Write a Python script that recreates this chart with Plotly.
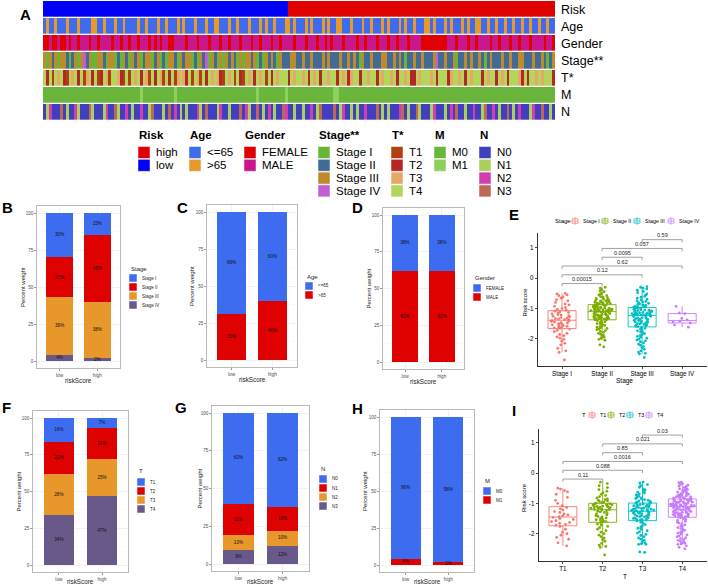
import plotly.graph_objects as go

W, H = 708, 586
FONT = "Liberation Sans, Arial, sans-serif"


def fx(p):
    return p / W


def fy(p):
    return 1 - p / H


# ---------------- data : heatmap (one character per sample, ordered by risk) ----------------
risk_n_low = 86
risk_n_high = 94
age_row = ("ABAABAAABA" "AABAAAABBA" "ABAAABAABA" "AAABAABAAA" "BAABAAABAB" "AAABAAABAA"
           "BBAAABAABA" "AABAAABABA" "ABAAABBABA" "AABABAAABA" "BAABBAAABA" "AABAABAAAB"
           "ABAAABABAA" "BAAABBABAA" "ABABAAABAB" "AABBAABAAB" "AABAABAABA" "ABAABAABAA")
gender_row = ("FFMFFMFFMF" "MMFMMMFMMF" "MMMMFMMFMM" "FMMFMMMFMF" "MFMMFFMMMM" "FMMMFMMMFM"
              "MMFMMFMMMF" "MMMFMMFMMM" "FMMFMMMMFM" "MMFMMMFMMF" "MFMMMFMMMM" "FMMFMMMFMM"
              "MFMMFMMMFM" "MMMFFFFFFF" "FFMMMFMMMF" "MMFMMMMFMM" "FMMMFMMFMM" "MFMMMMFMMF")
stage_row = ("3132313321" "2313423113" "3213312132" "1323123312" "3121332132" "3312132413"
             "2131323213" "1332312132" "3213222332" "2322322232" "3222322323" "2132232223"
             "3223232122" "3223222342" "2322312232" "3223212322" "2322322332" "2232232123")
t_row = ("4241434214" "3424134241" "2431443214" "1434243142" "4314241343" "2414314243"
         "4321434142" "1434243414" "2434442434" "4342434244" "3442434234" "4244344243"
         "4434244342" "2434443424" "4423443424" "3444243442" "4342444324" "2443434442")
m_row = ("0000000000" "0000000000" "0000000000" "0000100000" "0000001000" "0000000000"
         "0000000000" "0000010000" "0000010000" "0000000000" "0011000000" "0000000000"
         "0000000000" "0000000000" "0000000000" "0000000000" "0000000000" "0000000000")
n_row = ("0120003010" "0210003100" "0120031002" "0100200130" "0010302010" "1000210300"
         "0120010003" "0210030102" "0100320010" "0100201300" "0030120010" "1002000301"
         "0100023010" "0310001200" "0102030010" "0200130020" "1003010200" "0120030010")
risk_row = "L" * risk_n_low + "H" * risk_n_high

row_labels = ["Risk", "Age", "Gender", "Stage**", "T*", "M", "N"]
legend_titles = ["Risk", "Age", "Gender", "Stage**", "T*", "M", "N"]
legend_items = [["high", "low"], ["<=65", ">65"], ["FEMALE", "MALE"],
                ["Stage I", "Stage II", "Stage III", "Stage IV"], ["T1", "T2", "T3", "T4"],
                ["M0", "M1"], ["N0", "N1", "N2", "N3"]]
legend_keys = [["H", "L"], ["A", "B"], ["F", "M"], ["1", "2", "3", "4"], ["1", "2", "3", "4"],
               ["0", "1"], ["0", "1", "2", "3"]]
legend_colors = [["#E00000", "#0000F5"], ["#3F6BEF", "#E8992B"], ["#E00000", "#C8168C"],
                 ["#6AB535", "#416B94", "#BF8A2B", "#C25ED3"],
                 ["#AF4110", "#B52626", "#E7A766", "#B1D65A"],
                 ["#6AB53C", "#8CD05E"], ["#3F3FBF", "#ABCF5B", "#D43DB1", "#BF6754"]]

# ---------------- data : stacked percentage bars ----------------
stage_levels = ["Stage I", "Stage II", "Stage III", "Stage IV"]
stage_low = [30, 27, 39, 4]
stage_high = [15, 45, 38, 2]
age_levels = ["<=65", ">65"]
age_low = [69, 31]
age_high = [60, 40]
gender_levels = ["FEMALE", "MALE"]
gender_low = [38, 62]
gender_high = [38, 62]
t_levels = ["T1", "T2", "T3", "T4"]
t_low = [16, 22, 28, 34]
t_high = [7, 21, 25, 47]
n_levels = ["N0", "N1", "N2", "N3"]
n_low = [60, 21, 10, 9]
n_high = [62, 16, 10, 12]
m_levels = ["M0", "M1"]
m_low = [96, 4]
m_high = [98, 2]
risk_groups = ["low", "high"]

# ---------------- data : risk score by Stage ----------------
stage_box_names = ["Stage I", "Stage II", "Stage III", "Stage IV"]
stage_I = [-0.50, -0.52, -0.55, -0.58, -0.62, -0.66, -0.71, -0.75, -0.80, -0.85, -0.88, -0.93, -0.97, -1.00, -1.03, -1.06,
           -1.09, -1.11, -1.13, -1.15, -1.18, -1.20, -1.22, -1.24, -1.26, -1.28, -1.30, -1.32, -1.34, -1.35, -1.37, -1.38,
           -1.40, -1.42, -1.43, -1.45, -1.47, -1.48, -1.50, -1.52, -1.54, -1.55, -1.57, -1.59, -1.61, -1.62, -1.64, -1.65,
           -1.68, -1.72, -1.77, -1.82, -1.86, -1.90, -1.94, -1.98, -2.02, -2.08, -2.15, -2.20, -2.32, -2.40, -2.45, -2.70]
stage_II = [-0.30, -0.33, -0.38, -0.42, -0.45, -0.50, -0.53, -0.56, -0.58, -0.61, -0.63, -0.65, -0.67, -0.69, -0.70,
            -0.72, -0.73, -0.75, -0.76, -0.77, -0.78, -0.79, -0.80, -0.81, -0.82, -0.83, -0.84, -0.85, -0.86, -0.87,
            -0.88, -0.89, -0.90, -0.91, -0.92, -0.93, -0.94, -0.95, -0.96, -0.96, -0.97, -0.98, -0.99, -1.00, -1.01,
            -1.02, -1.02, -1.03, -1.04, -1.05, -1.05, -1.06, -1.06, -1.07, -1.07, -1.08, -1.08, -1.09, -1.09, -1.10,
            -1.11, -1.12, -1.13, -1.14, -1.15, -1.16, -1.17, -1.18, -1.19, -1.20, -1.21, -1.22, -1.23, -1.24, -1.25,
            -1.26, -1.27, -1.28, -1.29, -1.30, -1.31, -1.32, -1.33, -1.33, -1.34, -1.34, -1.35, -1.35, -1.36, -1.37,
            -1.38, -1.40, -1.42, -1.44, -1.46, -1.48, -1.50, -1.52, -1.54, -1.56, -1.58, -1.60, -1.62, -1.64, -1.66,
            -1.68, -1.70, -1.73, -1.76, -1.79, -1.82, -1.85, -1.88, -1.91, -1.95, -1.98, -2.02, -2.05, -2.20, -2.27]
stage_III = [-0.28, -0.30, -0.33, -0.36, -0.40, -0.44, -0.48, -0.52, -0.56, -0.60, -0.63, -0.66, -0.69, -0.72,
             -0.75, -0.77, -0.79, -0.81, -0.83, -0.85, -0.87, -0.89, -0.90, -0.92, -0.93, -0.94, -0.95, -0.96,
             -0.98, -0.99, -1.00, -1.01, -1.03, -1.04, -1.05, -1.06, -1.07, -1.08, -1.09, -1.10, -1.11, -1.12,
             -1.13, -1.14, -1.15, -1.16, -1.17, -1.18, -1.18, -1.19, -1.20, -1.20, -1.21, -1.21, -1.22, -1.22,
             -1.24, -1.25, -1.26, -1.27, -1.28, -1.30, -1.31, -1.32, -1.34, -1.35, -1.36, -1.38, -1.39, -1.40,
             -1.42, -1.43, -1.44, -1.46, -1.47, -1.48, -1.50, -1.51, -1.53, -1.54, -1.56, -1.57, -1.59, -1.60,
             -1.62, -1.65, -1.68, -1.71, -1.74, -1.77, -1.80, -1.83, -1.86, -1.89, -1.92, -1.95, -1.98, -2.01,
             -2.04, -2.07, -2.10, -2.14, -2.18, -2.22, -2.26, -2.30, -2.35, -2.40, -2.44, -2.48, -2.50, -2.62]
stage_IV = [-0.93, -1.15, -1.17, -1.33, -1.38, -1.42, -1.45, -1.48, -1.55, -1.62]
stage_pvals = ["0.00015", "0.12", "0.62", "0.0095", "0.057", "0.59"]

# ---------------- data : risk score by T ----------------
t_box_names = ["T1", "T2", "T3", "T4"]
t_1 = [-0.50, -0.53, -0.58, -0.62, -0.70, -0.80, -0.90, -1.00, -1.08,
       -1.14, -1.18, -1.22, -1.27, -1.30, -1.35, -1.38, -1.41, -1.44,
       -1.46, -1.50, -1.53, -1.57, -1.60, -1.63, -1.66, -1.69, -1.72,
       -1.76, -1.85, -1.95, -2.00, -2.05, -2.12, -2.18, -2.30, -2.40]
t_2 = [-0.30, -0.35, -0.42, -0.48, -0.55, -0.60, -0.65, -0.70, -0.74, -0.78, -0.82, -0.85, -0.88, -0.90, -0.92,
       -0.94, -0.96, -0.98, -0.99, -1.01, -1.02, -1.04, -1.05, -1.06, -1.08, -1.09, -1.10, -1.11, -1.12, -1.13,
       -1.14, -1.15, -1.16, -1.17, -1.18, -1.19, -1.20, -1.20, -1.22, -1.24, -1.26, -1.28, -1.30, -1.33, -1.35,
       -1.38, -1.40, -1.43, -1.45, -1.48, -1.50, -1.52, -1.54, -1.56, -1.58, -1.60, -1.61, -1.64, -1.68, -1.72,
       -1.76, -1.80, -1.85, -1.90, -1.95, -2.00, -2.05, -2.10, -2.15, -2.20, -2.25, -2.32, -2.38, -2.42, -2.45,
       -2.70]
t_3 = [-0.30, -0.33, -0.38, -0.42, -0.47, -0.52, -0.56, -0.60, -0.63, -0.66, -0.69, -0.72, -0.75, -0.77, -0.80,
       -0.82, -0.84, -0.86, -0.88, -0.90, -0.92, -0.94, -0.96, -0.98, -1.00, -1.01, -1.02, -1.04, -1.05, -1.06,
       -1.08, -1.09, -1.10, -1.12, -1.13, -1.14, -1.16, -1.17, -1.18, -1.19, -1.20, -1.21, -1.22, -1.23, -1.23,
       -1.24, -1.25, -1.25, -1.27, -1.28, -1.29, -1.30, -1.32, -1.33, -1.34, -1.36, -1.37, -1.38, -1.40, -1.41,
       -1.42, -1.44, -1.45, -1.46, -1.48, -1.49, -1.50, -1.52, -1.53, -1.54, -1.55, -1.56, -1.58, -1.62, -1.66,
       -1.70, -1.74, -1.78, -1.82, -1.86, -1.90, -1.94, -1.98, -2.02, -2.06, -2.10, -2.14, -2.18, -2.22, -2.26,
       -2.30, -2.33, -2.35, -2.35, -2.60, -2.62]
t_4 = [-0.30, -0.32, -0.35, -0.38, -0.40, -0.43, -0.45, -0.48, -0.50, -0.52, -0.54, -0.56, -0.58, -0.60, -0.62,
       -0.63, -0.65, -0.66, -0.68, -0.69, -0.70, -0.72, -0.73, -0.74, -0.75, -0.76, -0.77, -0.78, -0.79, -0.80,
       -0.81, -0.82, -0.83, -0.84, -0.85, -0.86, -0.87, -0.88, -0.89, -0.90, -0.91, -0.92, -0.93, -0.94, -0.95,
       -0.96, -0.96, -0.97, -0.98, -0.99, -1.00, -1.00, -1.01, -1.02, -1.02, -1.03, -1.04, -1.04, -1.05, -1.05,
       -1.06, -1.06, -1.07, -1.07, -1.08, -1.08, -1.09, -1.09, -1.10, -1.10, -1.11, -1.12, -1.13, -1.14, -1.15,
       -1.16, -1.17, -1.18, -1.19, -1.20, -1.21, -1.22, -1.23, -1.24, -1.25, -1.26, -1.27, -1.28, -1.29, -1.30,
       -1.31, -1.32, -1.33, -1.34, -1.35, -1.36, -1.37, -1.38, -1.39, -1.40, -1.41, -1.42, -1.43, -1.44, -1.45,
       -1.47, -1.50, -1.53, -1.56, -1.59, -1.62, -1.65, -1.68, -1.71, -1.74, -1.77, -1.80, -1.83, -1.86, -1.89,
       -1.92, -1.95, -1.98, -2.01, -2.04, -2.07, -2.10, -2.13, -2.16, -2.19, -2.22, -2.25, -2.28, -2.30, -2.32,
       -2.34, -2.35, -2.40, -2.45, -2.50]
t_pvals = ["0.11", "0.088", "0.0016", "0.85", "0.021", "0.03"]
comparisons = [(0, 1), (0, 2), (0, 3), (1, 2), (1, 3), (2, 3)]

# ---------------- styles ----------------
BAR_COLORS = ["#3D6CF0", "#DF0000", "#E8982A", "#69598A"]
BOX_COLORS = ["#F8766D", "#7CAE00", "#00BFC4", "#C77CFF"]
BORDER = "#A8A8A8"
GRID = "#ECECEC"
MINOR = "#F6F6F6"

fig = go.Figure()
shapes = []
annotations = []
layout_axes = {}


def text(x, y, s, size, color="black", bold=False, xanchor="center", yanchor="middle", angle=0):
    annotations.append(dict(x=fx(x), y=fy(y), xref="paper", yref="paper", text=f"<b>{s}</b>" if bold else s,
                            showarrow=False, xanchor=xanchor, yanchor=yanchor, textangle=angle,
                            font=dict(size=size, color=color, family=FONT)))


def rect(x0, y0, x1, y1, fill, line_color=None, lw=0):
    shapes.append(dict(type="rect", xref="paper", yref="paper", x0=fx(x0), x1=fx(x1), y0=fy(y1), y1=fy(y0),
                       fillcolor=fill, line=dict(width=lw, color=line_color or fill), layer="above"))


# ---------------- A : annotation heatmap ----------------
rows = [risk_row, age_row, gender_row, stage_row, t_row, m_row, n_row]
codes = {}
colors_flat = []
for r, (keys, cols) in enumerate(zip(legend_keys, legend_colors)):
    for k, c in zip(keys, cols):
        codes[(r, k)] = len(colors_flat)
        colors_flat.append(c)
ncode = len(colors_flat)
cscale = []
for i, c in enumerate(colors_flat):
    cscale.append([i / ncode, c])
    cscale.append([(i + 1) / ncode, c])
ncol = min(len(s) for s in rows)
z = [[codes[(r, ch)] for ch in s[:ncol]] for r, s in enumerate(rows)]
fig.add_trace(go.Heatmap(z=z, x=list(range(ncol)), y=list(range(len(rows))), colorscale=cscale,
                         zmin=-0.5, zmax=ncode - 0.5, showscale=False, ygap=1.3, xgap=0,
                         hoverinfo="skip", xaxis="x", yaxis="y"))
HM_L, HM_R, HM_T, HM_B = 43, 555, 1, 121
layout_axes["xaxis"] = dict(domain=[fx(HM_L), fx(HM_R)], range=[-0.5, ncol - 0.5], visible=False, anchor="y")
layout_axes["yaxis"] = dict(domain=[fy(HM_B), fy(HM_T)], range=[len(rows) - 0.5, -0.5], visible=False, anchor="x")
row_h = (HM_B - HM_T) / len(rows)
for i, lab in enumerate(row_labels):
    text(559, HM_T + (i + 0.5) * row_h, lab, 12.5, xanchor="left")

# heatmap legend
leg_x = [138, 189, 244, 318, 391, 434, 479]
for gx, title, items, cols in zip(leg_x, legend_titles, legend_items, legend_colors):
    text(gx - 1, 135, title, 11.5, bold=True, xanchor="left")
    for j, (it, c) in enumerate(zip(items, cols)):
        cy = 152.5 + 12.8 * j
        rect(gx, cy - 6, gx + 12, cy + 6, c, "white", 0.5)
        text(gx + 16, cy, it, 11.5, xanchor="left")

# ---------------- stacked bar panels ----------------
bar_panels = [
    dict(ax=2, levels=stage_levels, low=stage_low, high=stage_high, title="Stage",
         left=37, right=120, y0=361, y100=213, ytx=23, leg=(129, 269, 278), letter=("B", 7, 207)),
    dict(ax=3, levels=age_levels, low=age_low, high=age_high, title="Age",
         left=207, right=297, y0=360, y100=212, ytx=192, leg=(305, 277, 286), letter=("C", 182, 207)),
    dict(ax=4, levels=gender_levels, low=gender_low, high=gender_high, title="Gender",
         left=383, right=464, y0=362, y100=215, ytx=368, leg=(473, 278, 288), letter=("D", 357, 207)),
    dict(ax=6, levels=t_levels, low=t_low, high=t_high, title="T",
         left=33, right=128, y0=565, y100=418, ytx=18, leg=(137, 471, 482), letter=("F", 6, 407)),
    dict(ax=7, levels=n_levels, low=n_low, high=n_high, title="N",
         left=212, right=309, y0=564, y100=413, ytx=199, leg=(319, 469, 479), letter=("G", 181, 407)),
    dict(ax=8, levels=m_levels, low=m_low, high=m_high, title="M",
         left=380, right=474, y0=565, y100=417, ytx=365, leg=(483, 481, 491), letter=("H", 358, 408)),
]

for p in bar_panels:
    a = p["ax"]
    xa, ya = f"x{a}", f"y{a}"
    s = (p["y0"] - p["y100"]) / 100.0
    top = p["y100"] - 5 * s
    bottom = p["y0"] + 5 * s
    nlev = len(p["levels"])
    # bottom of stack = last level
    cum = [0.0, 0.0]
    tx, ty, tt = [], [], []
    for k in reversed(range(nlev)):
        vals = [p["low"][k], p["high"][k]]
        fig.add_trace(go.Bar(x=[0, 1], y=vals, width=0.7, marker=dict(color=BAR_COLORS[k], line=dict(width=0)),
                             xaxis=xa, yaxis=ya, hoverinfo="skip"))
        for g in range(2):
            tx.append(g)
            ty.append(cum[g] + vals[g] / 2.0)
            tt.append(f"{vals[g]}%")
            cum[g] += vals[g]
    fig.add_trace(go.Scatter(x=tx, y=ty, text=tt, mode="text", textfont=dict(size=4.6, color="#111", family=FONT),
                             xaxis=xa, yaxis=ya, hoverinfo="skip"))
    layout_axes[f"xaxis{a}"] = dict(domain=[fx(p["left"]), fx(p["right"])], range=[-0.6, 1.6], anchor=ya,
                                    tickvals=[0, 1], ticktext=risk_groups, showgrid=True, gridcolor=GRID,
                                    gridwidth=0.7, zeroline=False, showline=True, mirror=True, linecolor=BORDER,
                                    linewidth=0.8, ticks="outside", ticklen=2, tickwidth=0.6, tickcolor="#555",
                                    tickfont=dict(size=4.8, color="#4D4D4D", family=FONT), fixedrange=True)
    layout_axes[f"yaxis{a}"] = dict(domain=[fy(bottom), fy(top)], range=[-5, 105], anchor=xa,
                                    tickvals=[0, 25, 50, 75, 100], ticktext=["0", "25", "50", "75", "100"],
                                    showgrid=True, gridcolor=GRID, gridwidth=0.7, zeroline=False,
                                    showline=True, mirror=True, linecolor=BORDER, linewidth=0.8,
                                    ticks="outside", ticklen=2, tickwidth=0.6, tickcolor="#555",
                                    tickfont=dict(size=4.5, color="#4D4D4D", family=FONT),
                                    minor=dict(tickvals=[12.5, 37.5, 62.5, 87.5], showgrid=True,
                                               gridcolor=MINOR, gridwidth=0.5, ticks=""),
                                    fixedrange=True)
    cx = (p["left"] + p["right"]) / 2
    text(cx, min(bottom + 12, 581.5), "riskScore", 6.3, color="#222")
    text(p["ytx"], (top + bottom) / 2, "Percent weight", 6, color="#222", angle=-90)
    lx, lty, ly0 = p["leg"]
    text(lx, lty, p["title"], 6, color="#222", xanchor="left")
    for k, lev in enumerate(p["levels"]):
        cy = ly0 + 9 * k
        rect(lx, cy - 4, lx + 8, cy + 4, BAR_COLORS[k], "white", 0.5)
        text(lx + 11, cy, lev, 4.5, color="#222", xanchor="left")
    L, lx_, ly_ = p["letter"]
    text(lx_, ly_, L, 15, bold=True)

# ---------------- box panels ----------------
box_panels = [
    dict(ax=5, names=stage_box_names, data=[stage_I, stage_II, stage_III, stage_IV], pvals=stage_pvals,
         left=538, right=707, top=233, bottom=366, yr=[-2.9, 1.49], xtitle="Stage", legtitle="Stage",
         leg_y=221, leg_title_x=553, leg_keys=[575, 605, 637, 671], letter=("E", 514, 214)),
    dict(ax=9, names=t_box_names, data=[t_1, t_2, t_3, t_4], pvals=t_pvals,
         left=539, right=707, top=429, bottom=561, yr=[-2.9, 1.45], xtitle="T", legtitle="T",
         leg_y=415, leg_title_x=580, leg_keys=[592, 611, 630, 649], letter=("I", 514, 410)),
]

for p in box_panels:
    a = p["ax"]
    xa, ya = f"x{a}", f"y{a}"
    for i, (nm, vals) in enumerate(zip(p["names"], p["data"])):
        fig.add_trace(go.Box(x=[i] * len(vals), y=vals, name=nm, width=0.7, boxpoints="all", jitter=0.85,
                             pointpos=0, whiskerwidth=0, fillcolor="rgba(255,255,255,0)",
                             line=dict(color=BOX_COLORS[i], width=0.9),
                             marker=dict(color=BOX_COLORS[i], size=2.8, line=dict(width=0)),
                             xaxis=xa, yaxis=ya, hoverinfo="skip"))
    layout_axes[f"xaxis{a}"] = dict(domain=[fx(p["left"]), fx(p["right"])], range=[-0.6, 3.62], anchor=ya,
                                    tickvals=[0, 1, 2, 3], ticktext=p["names"], showgrid=False, zeroline=False,
                                    showline=True, linecolor="black", linewidth=0.8, ticks="outside",
                                    ticklen=2, tickwidth=0.7, tickcolor="black",
                                    tickfont=dict(size=6.3, color="black", family=FONT), fixedrange=True)
    layout_axes[f"yaxis{a}"] = dict(domain=[fy(p["bottom"]), fy(p["top"])], range=p["yr"], anchor=xa,
                                    tickvals=[-2, -1, 0, 1], ticktext=["-2", "-1", "0", "1"], showgrid=False,
                                    zeroline=False, showline=True, linecolor="black", linewidth=0.8,
                                    ticks="outside", ticklen=2.5, tickwidth=0.7, tickcolor="black",
                                    tickfont=dict(size=6.3, color="black", family=FONT), fixedrange=True)
    # significance brackets
    ymax = max(max(v) for v in p["data"])
    base = ymax + 0.1
    step = 0.29
    tip = 0.09
    for k, ((g1, g2), pv) in enumerate(zip(comparisons, p["pvals"])):
        yl = base + k * step
        for (x0, y0, x1, y1) in [(g1, yl - tip, g1, yl), (g1, yl, g2, yl), (g2, yl, g2, yl - tip)]:
            shapes.append(dict(type="line", xref=xa, yref=ya, x0=x0, y0=y0, x1=x1, y1=y1,
                               line=dict(color="#8A8A8A", width=0.8)))
        annotations.append(dict(x=(g1 + g2) / 2, y=yl, xref=xa, yref=ya, text=pv, showarrow=False,
                                yanchor="bottom", yshift=-0.5, font=dict(size=5.5, color="#222", family=FONT)))
    cx = (p["left"] + p["right"]) / 2
    text(cx + 2, p["bottom"] + 15, p["xtitle"], 6.5)
    text(524, (p["top"] + p["bottom"]) / 2 + 3, "Risk score", 6, angle=-90)
    # legend
    ly = p["leg_y"]
    text(p["leg_title_x"], ly, p["legtitle"], 6, xanchor="left")
    for i, (nm, kx) in enumerate(zip(p["names"], p["leg_keys"])):
        c = BOX_COLORS[i]
        rect(kx - 3, ly - 2.2, kx + 3, ly + 2.2, "rgba(255,255,255,0)", c, 0.7)
        shapes.append(dict(type="line", xref="paper", yref="paper", x0=fx(kx - 3), x1=fx(kx + 3),
                           y0=fy(ly), y1=fy(ly), line=dict(color=c, width=0.7)))
        shapes.append(dict(type="line", xref="paper", yref="paper", x0=fx(kx), x1=fx(kx),
                           y0=fy(ly - 3.8), y1=fy(ly + 3.8), line=dict(color=c, width=0.7), layer="below"))
        text(kx + 6, ly, nm, 5.3, xanchor="left")
    L, lx_, ly_ = p["letter"]
    text(lx_, ly_, L, 15, bold=True)

text(25, 14, "A", 15, bold=True)

fig.update_layout(width=W, height=H, margin=dict(l=0, r=0, t=0, b=0), paper_bgcolor="white",
                  plot_bgcolor="white", showlegend=False, barmode="stack", boxmode="overlay",
                  font=dict(family=FONT), shapes=shapes, annotations=annotations, **layout_axes)
fig.write_html("out.html", config={"displayModeBar": False, "staticPlot": True},
               post_script="document.body.style.margin='0';document.body.style.overflow='hidden';")
